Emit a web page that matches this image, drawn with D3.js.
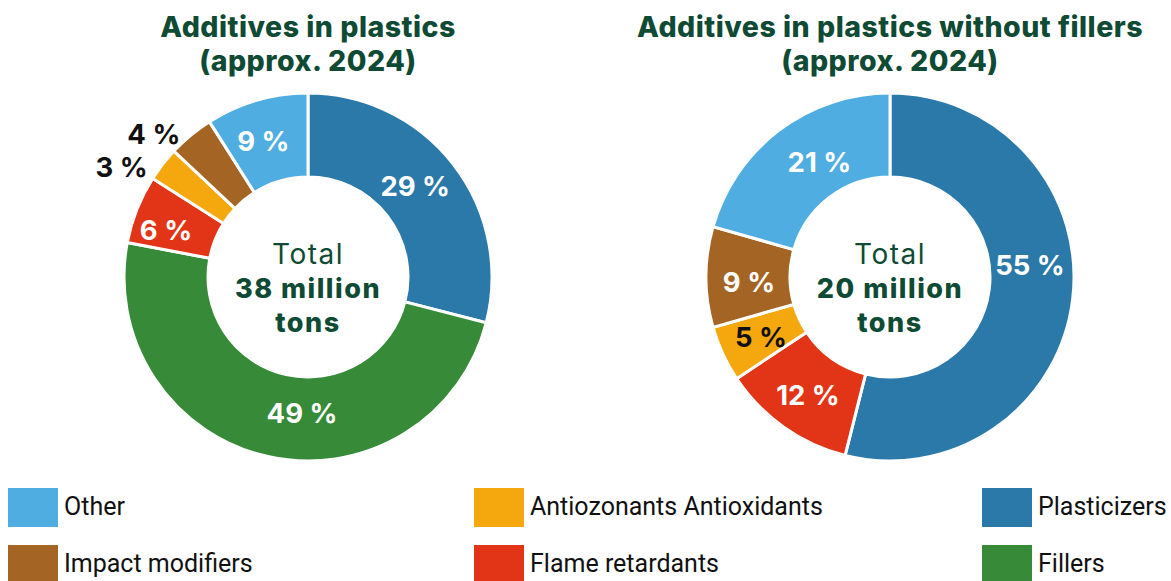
<!DOCTYPE html>
<html><head><meta charset="utf-8">
<script src="https://cdn.jsdelivr.net/npm/d3@7"></script>
<style>body{margin:0;background:#fff}svg{display:block}</style>
</head><body>
<svg id="c" width="1171" height="581"></svg>
<script>
const categoriesLeft = ["Plasticizers","Fillers","Flame retardants","Antiozonants Antioxidants","Impact modifiers","Other"];
const valuesLeft = [29,49,6,3,4,9];
const categoriesRight = ["Plasticizers","Flame retardants","Antiozonants Antioxidants","Impact modifiers","Other"];
const valuesRight = [55,12,5,9,21];
const legendOrder = ["Other","Impact modifiers","Antiozonants Antioxidants","Flame retardants","Plasticizers","Fillers"];
const titles = [["Additives in plastics","(approx. 2024)"],["Additives in plastics without fillers","(approx. 2024)"]];
const totals = ["38 million","20 million"];
const colors = {"Other":"#4FADE1","Impact modifiers":"#A46524","Antiozonants Antioxidants":"#F5A70E","Flame retardants":"#E23517","Plasticizers":"#2A79A8","Fillers":"#378A38"};
const outsideLabels = {"Antiozonants Antioxidants":true,"Impact modifiers":true};
const darkLabels = {"Antiozonants Antioxidants":true};
// small label nudges (style) relative to the arc centroid
const nudges = [
  {"Plasticizers":[-5,-4],"Fillers":[25,-2],"Flame retardants":[-10,5],"Other":[-5,0],"Impact modifiers":[-19,20],"Antiozonants Antioxidants":[-19,20]},
  {"Plasticizers":[-1,-29],"Flame retardants":[0,2],"Antiozonants Antioxidants":[0,1],"Impact modifiers":[1,5],"Other":[15,-2]}
];

const svg = d3.select("#c");
const titleColor = "#0F4A35";
const R = 184, r0 = 100;

function donut(idx, cx, cy, cats, vals, title, total, smallOutside){
  const g = svg.append("g").attr("transform",`translate(${cx},${cy})`);
  const data = cats.map((c,i)=>({cat:c,value:vals[i]}));
  const pie = d3.pie().sort(null).value(d=>d.value);
  const arcs = pie(data);
  const arc = d3.arc().innerRadius(r0).outerRadius(R);
  g.selectAll("path").data(arcs).enter().append("path")
    .attr("d",arc).attr("fill",d=>colors[d.data.cat])
    .attr("stroke","#fff").attr("stroke-width",3).attr("stroke-linejoin","miter");
  const labArc = d3.arc().innerRadius((r0+R)/2).outerRadius((r0+R)/2);
  const outArc = d3.arc().innerRadius(212).outerRadius(212);
  g.selectAll("text.v").data(arcs).enter().append("text")
    .attr("class","v")
    .attr("transform",d=>{
      const out = smallOutside && outsideLabels[d.data.cat];
      const p = (out?outArc:labArc).centroid(d);
      const n = nudges[idx][d.data.cat] || [0,0];
      return `translate(${p[0]+n[0]},${p[1]+n[1]})`;})
    .attr("text-anchor","middle").attr("dy","0.36em")
    .attr("font-family","Inter, 'Open Sans', sans-serif").attr("font-weight",700)
    .attr("font-size",27.5)
    .attr("fill",d=>{
      const out = smallOutside && outsideLabels[d.data.cat];
      return (out || darkLabels[d.data.cat]) ? "#111" : "#fff";})
    .text(d=>d.data.value+" %");
  // center
  g.append("text").attr("text-anchor","middle").attr("y",-23).attr("dy","0.36em")
    .attr("font-family","Inter, sans-serif").attr("font-weight",400).attr("font-size",28)
    .attr("letter-spacing",1.5)
    .attr("fill",titleColor).text("Total");
  g.append("text").attr("text-anchor","middle").attr("y",11).attr("dy","0.36em")
    .attr("font-family","Inter, sans-serif").attr("font-weight",800).attr("font-size",27)
    .attr("letter-spacing",1.5)
    .attr("fill",titleColor).text(total);
  g.append("text").attr("text-anchor","middle").attr("y",45).attr("dy","0.36em")
    .attr("font-family","Inter, sans-serif").attr("font-weight",800).attr("font-size",27)
    .attr("letter-spacing",1.5)
    .attr("fill",titleColor).text("tons");
  // title
  title.forEach((t,i)=>{
    svg.append("text").attr("x",cx).attr("y",37+i*34).attr("text-anchor","middle")
      .attr("font-family","Inter, sans-serif").attr("font-weight",800).attr("font-size",28.5)
      .attr("letter-spacing",0.5)
      .attr("fill",titleColor).text(t);
  });
}
donut(0,308,277,categoriesLeft,valuesLeft,titles[0],totals[0],true);
donut(1,890,277,categoriesRight,valuesRight,titles[1],totals[1],false);

// legend
const colX = [8,474,982];
const rowY = [488,545];
legendOrder.forEach((c,i)=>{
  const col = Math.floor(i/2), row = i%2;
  const x = colX[col], y = rowY[row];
  svg.append("rect").attr("x",x).attr("y",y).attr("width",50).attr("height",39).attr("fill",colors[c]);
  svg.append("text").attr("x",x+56).attr("y",y+18).attr("dy","0.36em")
    .attr("font-family","Roboto, sans-serif").attr("font-size",25).attr("fill","#111").text(c);
});
</script>
</body></html>
